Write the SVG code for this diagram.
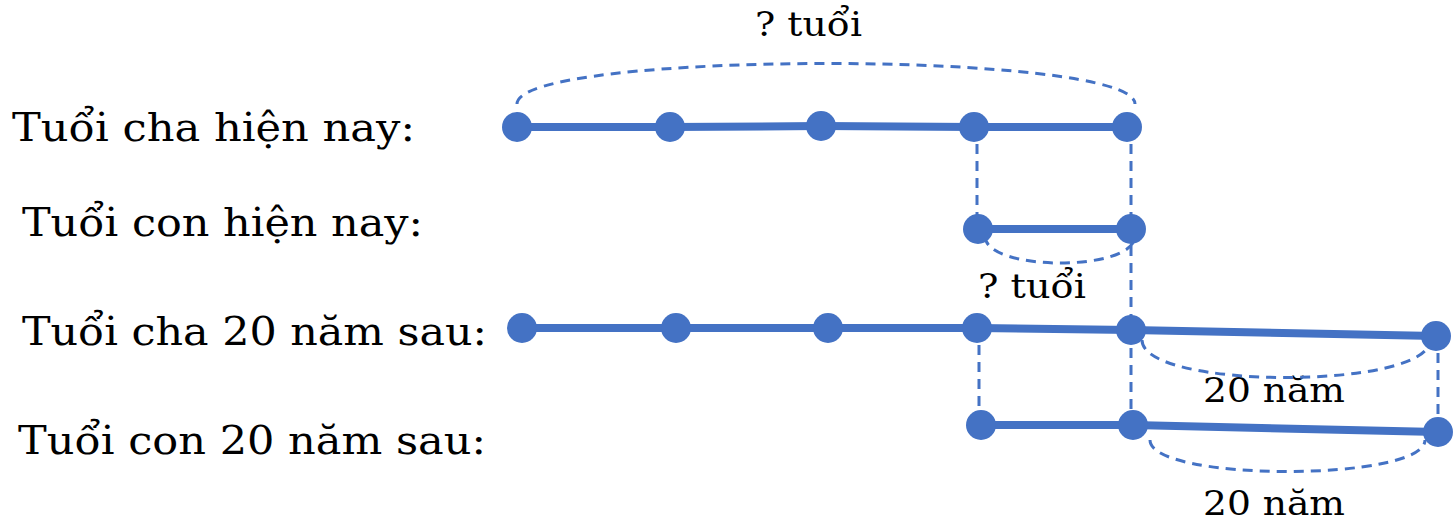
<svg xmlns="http://www.w3.org/2000/svg" width="1456" height="528" viewBox="0 0 1456 528">
<style>
.t{font-family:"DejaVu Serif","Liberation Serif",serif;font-size:40px;fill:#000}
.s{font-family:"DejaVu Serif","Liberation Serif",serif;font-size:34px;fill:#000}
.l{stroke:#4472C4;stroke-width:8;fill:none}
.d{stroke:#4472C4;stroke-width:3;stroke-dasharray:10 7;fill:none}
circle{fill:#4472C4}
</style>
<rect width="1456" height="528" fill="#fff"/>
<g id="labels">
<text class="t" x="12" y="141" textLength="403" lengthAdjust="spacingAndGlyphs">Tuổi cha hiện nay:</text>
<text class="t" x="22" y="236" textLength="401" lengthAdjust="spacingAndGlyphs">Tuổi con hiện nay:</text>
<text class="t" x="22" y="345" textLength="465" lengthAdjust="spacingAndGlyphs">Tuổi cha 20 năm sau:</text>
<text class="t" x="18" y="454" textLength="468" lengthAdjust="spacingAndGlyphs">Tuổi con 20 năm sau:</text>
<text class="s" x="755" y="36" textLength="107" lengthAdjust="spacingAndGlyphs">? tuổi</text>
<text class="s" x="978" y="298" textLength="108" lengthAdjust="spacingAndGlyphs">? tuổi</text>
<text class="s" x="1203" y="402" textLength="142" lengthAdjust="spacingAndGlyphs">20 năm</text>
<text class="s" x="1203" y="515" textLength="142" lengthAdjust="spacingAndGlyphs">20 năm</text>
</g>
<g id="connectors">
<path class="d" d="M517 104 C517 50 1135 50 1135 104"/>
<path class="d" d="M985 236 C985 272 1135 272 1135 236"/>
<path class="d" d="M1142 340 C1142 390 1430 390 1430 340"/>
<path class="d" d="M1150 440 C1150 482 1425 482 1425 440"/>
<line class="d" x1="977" y1="127" x2="977" y2="229"/>
<line class="d" x1="1131" y1="127" x2="1131" y2="425"/>
<line class="d" x1="979" y1="328" x2="979" y2="425"/>
<line class="d" x1="1438" y1="336" x2="1438" y2="432"/>
</g>
<g id="row1"><polyline class="l" points="517,127 670,127 821,126 974,127 1127,127"/>
<circle cx="517" cy="127" r="15"/><circle cx="670" cy="127" r="15"/><circle cx="821" cy="126" r="15"/><circle cx="974" cy="127" r="15"/><circle cx="1127" cy="127" r="15"/></g>
<g id="row2"><line class="l" x1="978" y1="229" x2="1131" y2="229"/>
<circle cx="978" cy="229" r="15"/><circle cx="1131" cy="229" r="15"/></g>
<g id="row3"><polyline class="l" points="522,328 676,328 828,328 977,328 1131,330 1436,336"/>
<circle cx="522" cy="328" r="15"/><circle cx="676" cy="328" r="15"/><circle cx="828" cy="328" r="15"/><circle cx="977" cy="328" r="15"/><circle cx="1131" cy="330" r="15"/><circle cx="1436" cy="336" r="15"/></g>
<g id="row4"><polyline class="l" points="981,425 1133,425 1438,432"/>
<circle cx="981" cy="425" r="15"/><circle cx="1133" cy="425" r="15"/><circle cx="1438" cy="432" r="15"/></g>
</svg>
